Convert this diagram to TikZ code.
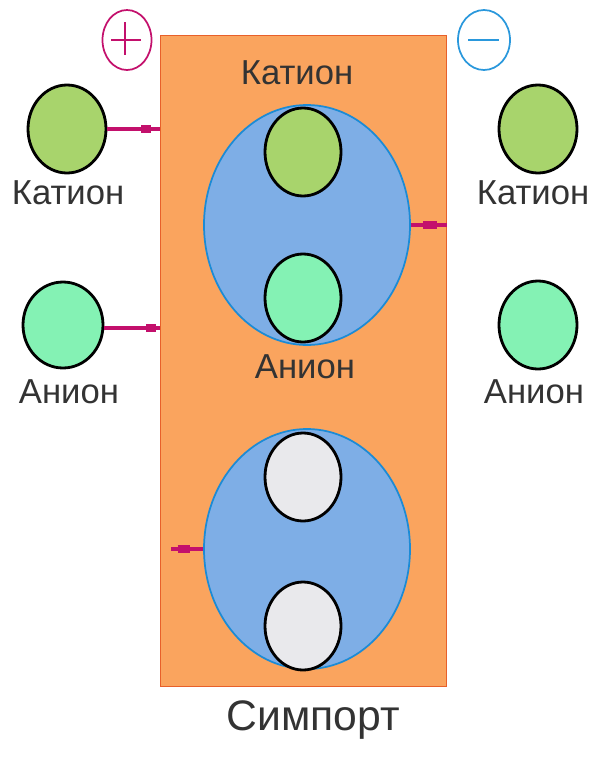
\documentclass[tikz,border=0pt]{standalone}
\usepackage{fontspec}
\setmainfont{Liberation Sans}
\usetikzlibrary{shapes.geometric,calc}
\definecolor{panelorange}{HTML}{FAA45E}
\definecolor{paneledge}{HTML}{E8602A}
\definecolor{carrierblue}{HTML}{7EAEE6}
\definecolor{carrieredge}{HTML}{1B8BD6}
\definecolor{cationgreen}{HTML}{A8D46C}
\definecolor{anionmint}{HTML}{84F2B4}
\definecolor{emptygray}{HTML}{E9E9EC}
\definecolor{linkmagenta}{HTML}{C3106C}
\definecolor{chargeblue}{HTML}{2A98DC}
\definecolor{labelgray}{HTML}{333333}
\tikzset{
  ion/.style={ellipse, draw=black, line width=2.1pt, inner sep=0pt,
    minimum width=#1*0.75pt},
  ionsize/.style={minimum height=88*0.75pt},
  carrier/.style={ellipse, draw=carrieredge, line width=1.3pt, fill=carrierblue,
    inner sep=0pt, minimum width=206*0.75pt, minimum height=240*0.75pt},
  lbl/.style={text=labelgray, font=\fontsize{26pt}{29pt}\selectfont, inner sep=0pt},
  link/.style={draw=linkmagenta, line width=3pt},
  linkbar/.style={draw=linkmagenta, line width=6pt},
  charge/.style={ellipse, draw, line width=1.3pt, minimum width=49*0.75pt,
    minimum height=60*0.75pt, inner sep=0pt}
}
\begin{document}
\begin{tikzpicture}[x=0.75pt,y=-0.75pt]
\useasboundingbox (0,0) rectangle (598,757);

% membrane panel
\node[draw=paneledge, line width=1pt, fill=panelorange, minimum width=286*0.75pt,
  minimum height=651*0.75pt, inner sep=0pt, anchor=north west] (panel) at (160,35) {};

% charge signs
\node[charge, draw=linkmagenta] (plus) at (127,40) {};
\draw[linkmagenta, line width=1.3pt] ($(plus)+(-16,0)$) -- ($(plus)+(14,0)$)
  ($(plus)+(-2,-18)$) -- ($(plus)+(-2,15)$);
\node[charge, draw=chargeblue, minimum width=52*0.75pt] (minus) at (484,40) {};
\draw[chargeblue, line width=1.3pt] ($(minus)+(-16,0)$) -- ($(minus)+(15,0)$);

% carriers
\node[carrier] (ctop) at (307,225) {};
\node[carrier] (cbot) at (307,549) {};

% ions inside carriers
\node[ion=76, ionsize, fill=cationgreen] (tcat) at (303,152) {};
\node[ion=76, ionsize, fill=anionmint] (tan) at (303,298) {};
\node[ion=76, ionsize, fill=emptygray] (bup) at (303,477) {};
\node[ion=76, ionsize, fill=emptygray] (bdn) at (303,626) {};

% free ions
\node[ion=78, ionsize, fill=cationgreen] (lcat) at (67,129) {};
\node[ion=80, minimum height=86*0.75pt, fill=anionmint] (lan) at (63,325) {};
\node[ion=78, ionsize, fill=cationgreen] (rcat) at (538,129) {};
\node[ion=78, ionsize, fill=anionmint] (ran) at (538,325) {};

% labels
\node[lbl] (lcatl) at (68,193) {Катион};
\node[lbl] (lanl) at (69,392) {Анион};
\node[lbl] (rcatl) at (533,193) {Катион};
\node[lbl] (ranl) at (534,392) {Анион};
\node[lbl] (tcatl) at (297,73) {Катион};
\node[lbl] (tanl) at (305,367) {Анион};
\node[lbl, font=\fontsize{32pt}{35pt}\selectfont] (title) at (313,720) {Симпорт};

% flux connectors
\coordinate (e1) at (lcat.east -| panel.west);
\draw[link] (lcat.east) -- (e1);
\draw[linkbar] ($(e1)+(-19,0)$) -- ($(e1)+(-9,0)$);

\coordinate (e2) at ([yshift=-2]lan.east -| panel.west);
\draw[link] ([yshift=-2]lan.east) -- (e2);
\draw[linkbar] ($(e2)+(-14,0)$) -- ($(e2)+(-4,0)$);

\coordinate (e3) at (ctop.east -| panel.east);
\draw[link] (ctop.east) -- (e3);
\draw[linkbar] ($(ctop.east)+(12,0)$) -- ($(ctop.east)+(26,0)$);

\coordinate (e4) at ([xshift=8]cbot.west -| panel.west);
\draw[link] (cbot.west) -- (e4);
\draw[linkbar] ($(e4)+(7,0)$) -- ($(e4)+(19,0)$);
\end{tikzpicture}
\end{document}
